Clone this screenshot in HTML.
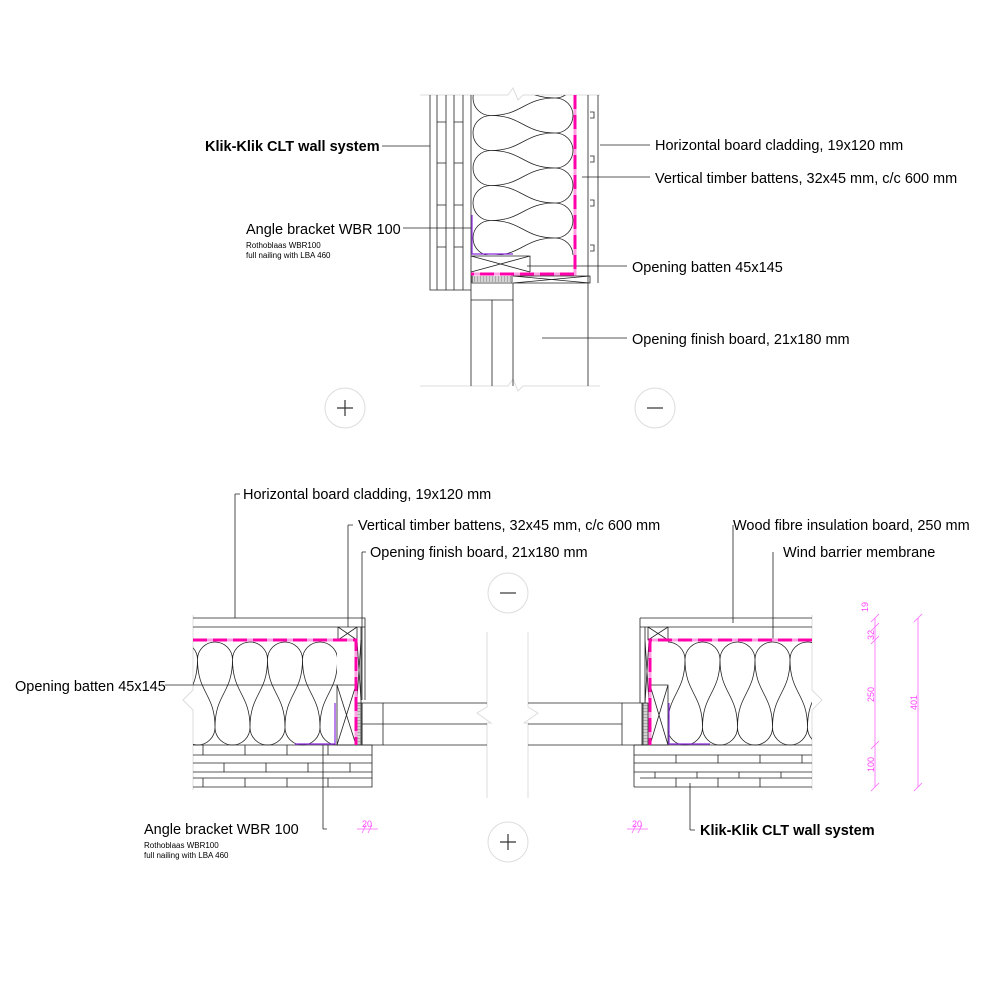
<!DOCTYPE html>
<html><head><meta charset="utf-8"><style>
html,body{margin:0;padding:0;background:#fff}
svg{display:block}
text{font-family:"Liberation Sans",Arial,sans-serif;fill:#000}
.l{font-size:14.5px}
.s{font-size:8px}
.b{font-weight:bold}
.d text{font-size:9px;fill:#f4f}
</style></head><body>
<svg id="s" width="1000" height="1000" viewBox="0 0 1000 1000" xmlns="http://www.w3.org/2000/svg">
<defs>
<clipPath id="c1"><rect x="472" y="95" width="102" height="160"/></clipPath>
<clipPath id="c2"><rect x="193" y="641" width="144" height="105"/></clipPath>
<clipPath id="c3"><rect x="668" y="641" width="144" height="105"/></clipPath>
</defs>
<g fill="none" stroke="#ddd" stroke-width="1">
  <path d="M420 95 H508 L513 88 L518 100 L523 95 H600"/>
  <path d="M420 386 H508 L513 379 L518 391 L523 386 H600"/>
  <path d="M487 632 V707 L477 713 L491 723 H487 V798"/>
  <path d="M528 632 V707 L538 713 L524 723 H528 V798"/>
  <path d="M193 615 V690 L183 700 L193 710 V790"/>
  <path d="M812 615 V690 L822 700 L812 710 V790"/>
  <circle cx="345" cy="408" r="20"/>
  <circle cx="655" cy="408" r="20"/>
  <circle cx="508" cy="593" r="20"/>
  <circle cx="508" cy="842" r="20"/>
</g>
<g stroke="#333" stroke-width="1.2" fill="none">
  <path d="M337 408 H353 M345 400 V416"/>
  <path d="M647 408 H663"/>
  <path d="M500 593 H516"/>
  <path d="M500 842 H516 M508 834 V850"/>
</g>
<g fill="none" stroke="#222" stroke-width="0.8">
  <path d="M430 95 V290 H471 M437 95 V290 M446 95 V290 M454 95 V290 M463 95 V290 M471 95 V386"/>
  <path d="M437 122 H446 M454 122 H463 M437 163 H446 M454 163 H463 M437 205 H446 M454 205 H463 M437 247 H446 M454 247 H463"/>
  <path d="M471 256 H530 V272 M471 256 L530 272 M471 272 L530 256"/>
  <path d="M472 275 H512 V283 H472 Z"/>
  <path d="M513 276 H590 V283 H513 M513 276 L590 283 M513 283 L590 276"/>
  <path d="M471 300 H513 M492 300 V386 M513 283 V386 M588 283 V386"/>
  <path d="M588 95 V283 M598 95 V283 M590 112 h4 v6 h-4 M590 156 h4 v6 h-4 M590 200 h4 v6 h-4 M590 245 h4 v6 h-4"/>
  <path d="M193 618 H365 V700 M193 627 H365 M193 640 H338"/>
  <path d="M338 627 V640 H357 V627 M338 627 L357 640 M338 640 L357 627"/>
  <path d="M357 640 V745 M361 627 V745"/>
  <path d="M357 640 L361 700 M361 640 L357 700"/>
  <path d="M337 685 H356 V745 H337 Z M337 685 L356 745 M337 745 L356 685"/>
  <path d="M357 703 H362 V745 H357 Z"/>
  <path d="M362 703 H487 M362 724 H487 M362 745 H487 M383 703 V745 M362 703 V745"/>
  <path d="M193 745 H372 V787 H193 M193 755 H372 M193 763 H372 M193 772 H372 M193 778 H372"/>
  <path d="M203 745 V755 M245 745 V755 M287 745 V755 M328 745 V755 M224 763 V772 M266 763 V772 M308 763 V772 M350 763 V772 M203 778 V787 M245 778 V787 M287 778 V787 M328 778 V787"/>
  <path d="M640 618 H812 M640 627 H812 M640 618 V703 M668 640 H812"/>
  <path d="M648 627 V640 H668 V627 M648 627 L668 640 M648 640 L668 627"/>
  <path d="M645 627 V703 M645 640 L649 703 M649 640 L645 703"/>
  <path d="M650 685 H668 V745 H650 Z M650 685 L668 745 M650 745 L668 685"/>
  <path d="M643 703 H648 V745 H643 Z"/>
  <path d="M528 703 H643 M528 724 H622 M528 745 H643 M622 703 V745 M642 703 V745"/>
  <path d="M634 745 H812 M634 755 H812 M634 763 H812 M634 772 H812 M634 787 H812 M634 745 V787 M640 778 H812"/>
  <path d="M676 755 V763 M718 755 V763 M760 755 V763 M802 755 V763 M655 772 V778 M697 772 V778 M739 772 V778 M781 772 V778 M676 778 V787 M718 778 V787 M760 778 V787"/>
  <path d="M382 146 H430 M600 145 H650 M582 177 H650 M403 228 H471 M527 266 H627 M542 338 H627"/>
  <path d="M235 494 H240 M235 494 V618 M348 525 H353 M348 525 V627 M362 552 H366 M362 552 V700 M165 685 H337 M323 829 V745 M323 829 H327"/>
  <path d="M733 525 V623 M773 552 V640 M690 783 V830 M690 830 H695"/>
</g>
<g stroke="#555" stroke-width="0.5"><path id="h1" d=""/></g>
<g id="ins" fill="none" stroke="#222" stroke-width="0.8"></g>
<g fill="none" stroke-width="3">
  <path d="M575 95 V274 H471" stroke="#ff9ee0"/>
  <path d="M575 95 V274 H471" stroke="#f0a" stroke-dasharray="14 6"/>
  <path d="M193 640 H356 V745" stroke="#ff9ee0"/>
  <path d="M193 640 H356 V745" stroke="#f0a" stroke-dasharray="14 6"/>
  <path d="M812 640 H650 V745" stroke="#ff9ee0"/>
  <path d="M812 640 H650 V745" stroke="#f0a" stroke-dasharray="14 6"/>
</g>
<g fill="none" stroke="#8a2be2" stroke-width="1.2">
  <path d="M472 215 V254 H513"/>
  <path d="M335 703 V744 H295"/>
  <path d="M669 703 V744 H710"/>
</g>
<g stroke="#f6f" stroke-width="0.8" fill="none">
  <path d="M875 618 V787 M918 618 V787"/>
  <path d="M871 622 L879 614 M871 631 L879 623 M871 644 L879 636 M871 749 L879 741 M871 791 L879 783 M914 622 L922 614 M914 791 L922 783"/>
  <path d="M357 829 H378 M362 833 L366 825 M368 833 L372 825 M627 829 H648 M632 833 L636 825 M638 833 L642 825"/>
</g>
<g class="d">
  <text transform="translate(868,612) rotate(-90)">19</text>
  <text transform="translate(874,640) rotate(-90)">32</text>
  <text transform="translate(874,702) rotate(-90)">250</text>
  <text transform="translate(874,772) rotate(-90)">100</text>
  <text transform="translate(917,710) rotate(-90)">401</text>
  <text x="362" y="827">20</text>
  <text x="632" y="827">20</text>
</g>
<text class="l b" x="205" y="151">Klik-Klik CLT wall system</text>
<text class="l" x="655" y="150">Horizontal board cladding, 19x120 mm</text>
<text class="l" x="655" y="183">Vertical timber battens, 32x45 mm, c/c 600 mm</text>
<text class="l" x="246" y="234">Angle bracket WBR 100</text>
<text class="s" x="246" y="248">Rothoblaas WBR100</text>
<text class="s" x="246" y="258">full nailing with LBA 460</text>
<text class="l" x="632" y="272">Opening batten 45x145</text>
<text class="l" x="632" y="344">Opening finish board, 21x180 mm</text>
<text class="l" x="243" y="499">Horizontal board cladding, 19x120 mm</text>
<text class="l" x="358" y="530">Vertical timber battens, 32x45 mm, c/c 600 mm</text>
<text class="l" x="370" y="557">Opening finish board, 21x180 mm</text>
<text class="l" x="15" y="691">Opening batten 45x145</text>
<text class="l" x="144" y="834">Angle bracket WBR 100</text>
<text class="s" x="144" y="848">Rothoblaas WBR100</text>
<text class="s" x="144" y="858">full nailing with LBA 460</text>
<text class="l" x="733" y="530">Wood fibre insulation board, 250 mm</text>
<text class="l" x="783" y="557">Wind barrier membrane</text>
<text class="l b" x="700" y="835">Klik-Klik CLT wall system</text>
</svg>
<script>
(function(){
function ins(T,B,cStart,n,map){
  var r=17.5,m=(B-T-2*r)*0.5,k=r*0.55,d='';
  function P(u,v){var p=map(u,v);return p[0].toFixed(1)+' '+p[1].toFixed(1);}
  var c=cStart;
  d+='M'+P(c,B-r);
  for(var i=0;i<n;i++){
    d+=' C'+P(c,B-r-m)+' '+P(c-r,T+r+m)+' '+P(c-r,T+r);
    d+=' C'+P(c-r,T+r-k)+' '+P(c-k,T)+' '+P(c,T);
    d+=' C'+P(c+k,T)+' '+P(c+r,T+r-k)+' '+P(c+r,T+r);
    d+=' C'+P(c+r,T+r+m)+' '+P(c,B-r-m)+' '+P(c,B-r);
    d+=' C'+P(c,B-r+k)+' '+P(c-r+k,B)+' '+P(c-r,B);
    d+=' C'+P(c-r-k,B)+' '+P(c-2*r,B-r+k)+' '+P(c-2*r,B-r);
    c-=2*r;
  }
  return '<path d="'+d+'"/>';
}
var H=function(u,v){return [u,v];}, V=function(u,v){return [v,u];};
var s='';
s+='<g clip-path="url(#c1)">'+ins(473,573,133+35*4,9,V)+'</g>';
s+='<g clip-path="url(#c2)">'+ins(642,745,215+35*5,9,H)+'</g>';
s+='<g clip-path="url(#c3)">'+ins(642,745,702.5+35*5,9,H)+'</g>';
document.getElementById('ins').innerHTML=s;
var h='';
for(var x=473;x<512;x+=1.5)h+='M'+x+' 276 V282 ';
for(var y=704;y<745;y+=1.5)h+='M357 '+y+' H362 M643 '+y+' H648 ';
document.getElementById('h1').setAttribute('d',h);
})();
</script>
</body></html>
